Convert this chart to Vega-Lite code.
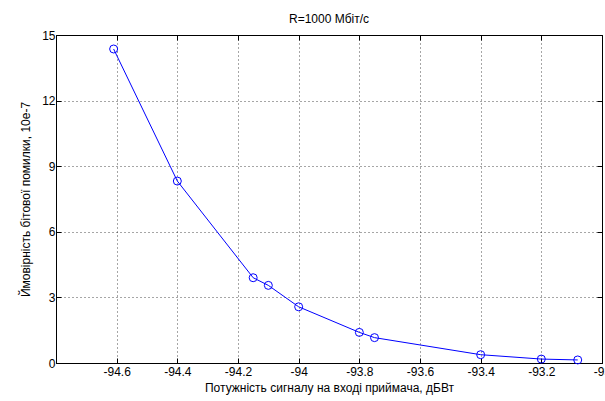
{
  "$schema": "https://vega.github.io/schema/vega-lite/v6.json",
  "width": 546,
  "height": 328,
  "autosize": {"type": "none"},
  "padding": {"left": 56, "top": 35, "right": 3, "bottom": 38},
  "background": "white",
  "title": {"text": "R=1000 Мбіт/с", "fontSize": 12, "font": "Liberation Sans", "fontWeight": "normal", "offset": 3, "color": "black"},
  "config": {
    "view": {"stroke": "black", "strokeWidth": 1},
    "axis": {
      "labelFont": "Liberation Sans", "labelFontSize": 12, "labelColor": "black",
      "titleFont": "Liberation Sans", "titleFontSize": 12, "titleFontWeight": "normal", "titleColor": "black",
      "domainColor": "black", "tickColor": "black", "tickSize": -5,
      "gridColor": "black", "gridDash": [1, 3], "gridOpacity": 0.7,
      "labelFlush": false, "labelOverlap": false, "labelBound": false
    }
  },
  "data": {"values": [
    {"p": -94.61, "ber": 14.36},
    {"p": -94.4, "ber": 8.32},
    {"p": -94.15, "ber": 3.9},
    {"p": -94.1, "ber": 3.55},
    {"p": -94.0, "ber": 2.57},
    {"p": -93.8, "ber": 1.4},
    {"p": -93.75, "ber": 1.16},
    {"p": -93.4, "ber": 0.38},
    {"p": -93.2, "ber": 0.18},
    {"p": -93.08, "ber": 0.14}
  ]},
  "layer": [
    {
      "mark": {"type": "line", "color": "#0000ff", "strokeWidth": 1,
        "point": {"shape": "circle", "filled": false, "color": "#0000ff", "size": 64, "strokeWidth": 1, "opacity": 1}},
      "encoding": {
        "x": {"field": "p", "type": "quantitative",
          "scale": {"domain": [-94.8, -93.0], "nice": false, "zero": false},
          "axis": {"values": [-94.6, -94.4, -94.2, -94, -93.8, -93.6, -93.4, -93.2, -93], "labelExpr": "'' + datum.value", "labelPadding": 8, "title": "Потужність сигналу на вході приймача, дБВт", "titlePadding": 5}},
        "y": {"field": "ber", "type": "quantitative",
          "scale": {"domain": [0, 15], "nice": false, "zero": false},
          "axis": {"values": [0, 3, 6, 9, 12, 15], "labelPadding": 6, "title": "Ймовірність бітової помилки, 10e-7", "titlePadding": 9}}
      }
    },
    {
      "mark": {"type": "point", "opacity": 0},
      "encoding": {
        "x": {"field": "p", "type": "quantitative",
          "axis": {"orient": "top", "values": [-94.6, -94.4, -94.2, -94, -93.8, -93.6, -93.4, -93.2, -93], "labels": false, "grid": false, "domain": false, "title": null}},
        "y": {"field": "ber", "type": "quantitative",
          "axis": {"orient": "right", "values": [0, 3, 6, 9, 12, 15], "labels": false, "grid": false, "domain": false, "title": null}}
      }
    }
  ],
  "resolve": {"axis": {"x": "independent", "y": "independent"}}
}
